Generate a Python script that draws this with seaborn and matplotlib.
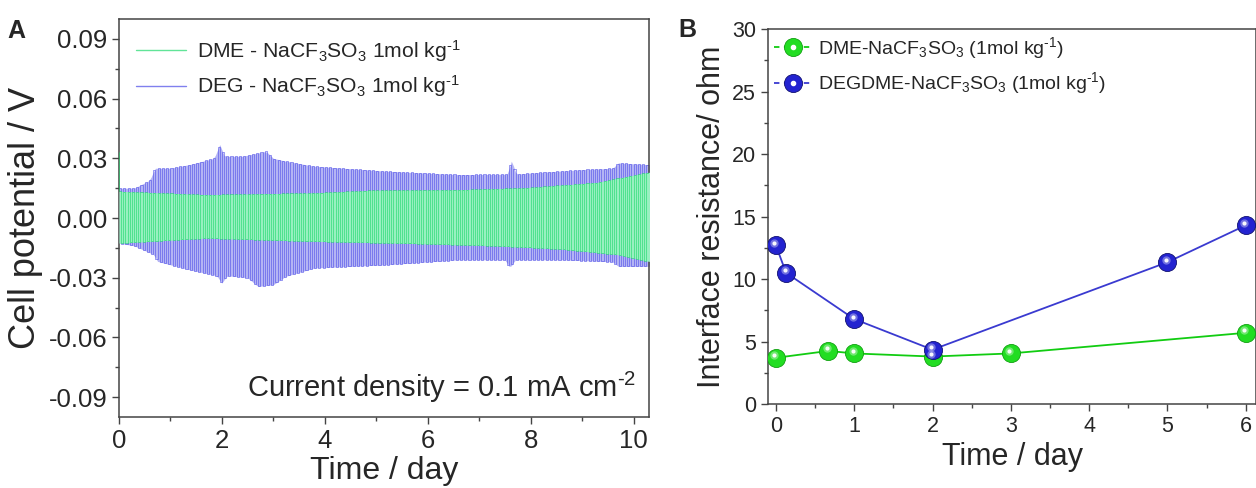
import numpy as np
import pandas as pd
import matplotlib
matplotlib.use("Agg")
import matplotlib.pyplot as plt
import matplotlib.transforms as mtransforms
from matplotlib.lines import Line2D
from matplotlib.legend_handler import HandlerTuple
from matplotlib.ticker import MultipleLocator, FormatStrFormatter
import seaborn as sns

sns.set_theme(style="ticks")
plt.rcParams['font.family'] = ['Liberation Sans', 'DejaVu Sans']
plt.rcParams['mathtext.fontset'] = 'custom'
plt.rcParams['mathtext.rm'] = 'Liberation Sans'
plt.rcParams['mathtext.it'] = 'Liberation Sans:italic'

# ---------------- Panel A data: envelopes of the cycling voltage -------------
half_cycle_day = 1.0 / 24.0     # 1 h charge / 1 h discharge
t_end = 10.3

deg_up_t = [0, 0.3, 0.6, 0.7, 1.0, 1.4, 1.85, 1.96, 2.05, 2.4, 2.86, 3.0, 3.25, 3.8, 5.2, 6.6, 7.55, 7.63, 7.72, 8.0, 9.0, 9.6, 9.7, 10.3]
deg_up_v = [0.015, 0.015, 0.019, 0.025, 0.025, 0.027, 0.030, 0.037, 0.031, 0.031, 0.0335, 0.030, 0.0285, 0.026, 0.0235, 0.0218, 0.022, 0.029, 0.022, 0.0226, 0.0243, 0.025, 0.0277, 0.0268]
deg_lo_t = [0, 0.3, 0.68, 0.75, 1.37, 1.9, 2.0, 2.1, 2.5, 2.7, 3.0, 3.24, 3.8, 5.2, 6.6, 7.5, 7.6, 7.7, 8.6, 9.6, 9.7, 10.3]
deg_lo_v = [-0.0126, -0.014, -0.0184, -0.0218, -0.026, -0.029, -0.0327, -0.029, -0.030, -0.0344, -0.0335, -0.0293, -0.0251, -0.0235, -0.021, -0.021, -0.025, -0.021, -0.021, -0.022, -0.0243, -0.0243]

dme_up_t = [0, 1.7, 3.8, 4.9, 6.6, 7.9, 9.3, 10.3]
dme_up_v = [0.0134, 0.0117, 0.0126, 0.0139, 0.0142, 0.0151, 0.0179, 0.023]
dme_lo_t = [0, 1.7, 3.8, 5.9, 7.25, 8.6, 9.7, 10.3]
dme_lo_v = [-0.0126, -0.0101, -0.0117, -0.0129, -0.0139, -0.0156, -0.0184, -0.0218]
dme_initial_peak = 0.033

# ---------------- Panel B data ----------------
dme_days = [0, 0.67, 1, 2, 3, 6]
dme_res = [3.7, 4.25, 4.05, 3.8, 4.05, 5.7]
deg_days = [0, 0.13, 1, 2, 5, 6]
deg_res = [12.7, 10.5, 6.8, 4.35, 11.35, 14.3]

labelsA = [r"DME - NaCF$_3$SO$_3$ 1mol kg$^{\text{-}1}$", r"DEG - NaCF$_3$SO$_3$ 1mol kg$^{\text{-}1}$"]
labelsB = [r"DME-NaCF$_3$SO$_3$ (1mol kg$^{\text{-}1}$)", r"DEGDME-NaCF$_3$SO$_3$ (1mol kg$^{\text{-}1}$)"]

def square_wave(up_t, up_v, lo_t, lo_v, peak=None):
    edges = np.arange(0, t_end + half_cycle_day, half_cycle_day)
    ts, vs = [], []
    if peak is not None:
        ts.append(0.0); vs.append(peak)
    for k in range(len(edges) - 1):
        a, b = edges[k], edges[k + 1]
        mid = 0.5 * (a + b)
        if k % 2 == 0:
            v = np.interp(mid, up_t, up_v)
        else:
            v = np.interp(mid, lo_t, lo_v)
        ts += [a, b]
        vs += [v, v]
    return pd.DataFrame({"t": ts, "v": vs})

df_deg = square_wave(deg_up_t, deg_up_v, deg_lo_t, deg_lo_v)
df_dme = square_wave(dme_up_t, dme_up_v, dme_lo_t, dme_lo_v, peak=dme_initial_peak)

green_a = "#1ed96c"
blue_a = "#4a4ae8"

fig = plt.figure(figsize=(12.56, 4.88), dpi=100)
axA = fig.add_axes([0.0947, 0.1455, 0.4220, 0.8155])
axB = fig.add_axes([0.6115, 0.172, 0.3885, 0.7686])

tg = np.asarray(df_deg["t"])
axA.fill_between(tg, np.interp(tg, deg_lo_t, deg_lo_v), np.interp(tg, deg_up_t, deg_up_v),
                 color="#b4b4f4", lw=0, zorder=1)
sns.lineplot(data=df_deg, x="t", y="v", sort=False, estimator=None, ax=axA,
             color=blue_a, lw=0.55, alpha=0.7, zorder=2)
tg2 = np.asarray(df_dme["t"])[1:]
axA.fill_between(tg2, np.interp(tg2, dme_lo_t, dme_lo_v), np.interp(tg2, dme_up_t, dme_up_v),
                 color="#98f0c0", lw=0, zorder=3)
sns.lineplot(data=df_dme, x="t", y="v", sort=False, estimator=None, ax=axA,
             color=green_a, lw=0.55, alpha=0.75, zorder=4)

axA.set_xlim(0, t_end)
axA.set_ylim(-0.1, 0.1)
axA.xaxis.set_major_locator(MultipleLocator(2))
axA.xaxis.set_minor_locator(MultipleLocator(1))
axA.yaxis.set_major_locator(MultipleLocator(0.03))
axA.yaxis.set_minor_locator(MultipleLocator(0.015))
axA.yaxis.set_major_formatter(FormatStrFormatter('%.2f'))
axA.set_xlabel("Time / day", fontsize=23, labelpad=2)
axA.set_ylabel("Cell potential / V", fontsize=26, labelpad=4)
axA.tick_params(axis='both', which='major', direction='out', length=5, width=1, labelsize=18.5, color='#444444')
axA.tick_params(axis='both', which='minor', direction='out', length=3, width=1, color='#444444')
for s in axA.spines.values():
    s.set_color('#444444'); s.set_linewidth(1.1)

hA = [Line2D([], [], color=green_a, lw=1.0, alpha=0.7), Line2D([], [], color=blue_a, lw=1.0, alpha=0.7)]
axA.legend(hA, labelsA, loc='upper left', frameon=False, fontsize=15.2, handlelength=2.4,
           handletextpad=0.5, labelspacing=0.45, borderaxespad=0.4, bbox_to_anchor=(0.0, 0.995))
axA.text(0.975, 0.075, "Current density = 0.1 mA cm$^{\\text{-}2}$", transform=axA.transAxes,
         ha='right', va='center', fontsize=21)

# ---------------- Panel B ----------------
green_b = "#22dd22"; green_bd = "#10a010"
blue_b = "#2323d0"; blue_bd = "#101070"

sns.lineplot(x=dme_days, y=dme_res, ax=axB, color="#11cc11", lw=1.3, sort=False, estimator=None)
sns.lineplot(x=deg_days, y=deg_res, ax=axB, color="#3a3ad0", lw=1.3, sort=False, estimator=None)

hl = mtransforms.offset_copy(axB.transData, fig=fig, x=-1.5, y=2.5, units='dots')
for xs, ys, c, cd in [(dme_days, dme_res, green_b, green_bd), (deg_days, deg_res, blue_b, blue_bd)]:
    axB.plot(xs, ys, 'o', ms=13, color=c, mec=cd, mew=0.6, zorder=3)
    axB.plot(xs, ys, 'o', ms=6, color='white', alpha=0.35, mew=0, zorder=4, transform=hl)
    axB.plot(xs, ys, 'o', ms=3, color='white', alpha=0.95, mew=0, zorder=5, transform=hl)

axB.set_xlim(-0.1, 6.13)
axB.set_ylim(0, 30)
axB.xaxis.set_major_locator(MultipleLocator(1))
axB.xaxis.set_minor_locator(MultipleLocator(0.5))
axB.yaxis.set_major_locator(MultipleLocator(5))
axB.yaxis.set_minor_locator(MultipleLocator(2.5))
axB.set_xlabel("Time / day", fontsize=22, labelpad=4)
axB.set_ylabel("Interface resistance/ ohm", fontsize=22, labelpad=4)
axB.tick_params(axis='both', which='major', direction='out', length=5, width=1, labelsize=15.5, color='#444444')
axB.tick_params(axis='both', which='minor', direction='out', length=3, width=1, color='#444444')
for s in axB.spines.values():
    s.set_color('#444444'); s.set_linewidth(1.1)

def ball(c, cd, ls_color):
    base = Line2D([], [], color=ls_color, lw=1.3, ls=(0, (3, 2.5)), marker='o', ms=13, mfc=c, mec=cd, mew=0.6)
    hi = Line2D([], [], ls='none', marker='o', ms=3, color='white')
    return (base, hi)

hB = [ball(green_b, green_bd, "#11cc11"), ball(blue_b, blue_bd, "#3a3ad0")]
axB.legend(hB, labelsB, loc='upper left', frameon=False, fontsize=14, handlelength=2.0,
           handletextpad=0.25, labelspacing=0.5, borderaxespad=0.0, borderpad=0.3,
           handler_map={tuple: HandlerTuple(ndivide=1)})

fig.text(0.006, 0.922, "A", fontsize=18, fontweight='bold')
fig.text(0.540, 0.925, "B", fontsize=18, fontweight='bold')

fig.savefig("out.png", dpi=100)
